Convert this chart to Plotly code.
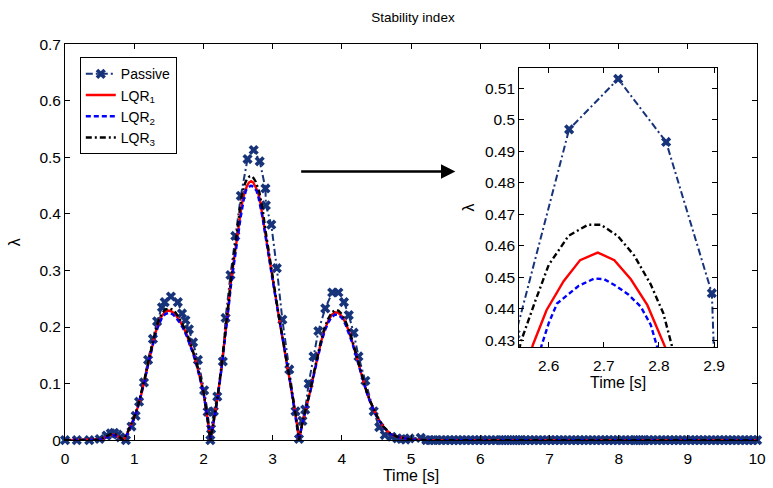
import plotly.graph_objects as go

# ---------------- data ----------------
# Passive (uncontrolled) stability index, variable-step samples
t_passive = [0.0, 0.17, 0.35, 0.5, 0.6, 0.66, 0.71, 0.76, 0.8, 0.88, 0.96, 1.02, 1.07, 1.14,
             1.2, 1.27, 1.33, 1.4, 1.44, 1.53, 1.63, 1.69, 1.74, 1.79, 1.85, 1.92, 2.01,
             2.06, 2.1, 2.11, 2.15, 2.2, 2.28, 2.32, 2.39, 2.46, 2.54, 2.637, 2.726, 2.813,
             2.896, 2.902, 2.98, 3.06, 3.14, 3.24, 3.33, 3.38, 3.43, 3.47, 3.52, 3.59, 3.66,
             3.76, 3.86, 3.95, 4.03, 4.1, 4.17, 4.24, 4.34, 4.46, 4.54, 4.62, 4.72, 4.8,
             4.86, 4.92, 4.98, 5.14,
             5.22, 5.27, 5.33, 5.38, 5.44, 5.5, 5.56, 5.62, 5.68, 5.74, 5.8, 5.86, 5.92,
             5.98, 6.04, 6.1, 6.16, 6.22, 6.28, 6.32, 6.36, 6.4, 6.44, 6.48, 6.52, 6.56,
             6.6, 6.66, 6.72, 6.78, 6.84, 6.9, 6.96, 7.02, 7.08, 7.14, 7.2, 7.26, 7.32,
             7.38, 7.44, 7.5, 7.56, 7.62, 7.68, 7.74, 7.8, 7.86, 7.92, 7.98, 8.04, 8.1,
             8.16, 8.22, 8.26, 8.3, 8.34, 8.38, 8.44, 8.5, 8.56, 8.62, 8.68, 8.74, 8.8,
             8.86, 8.92, 8.98, 9.04, 9.1, 9.16, 9.22, 9.28, 9.34, 9.4, 9.46, 9.52, 9.58,
             9.64, 9.7, 9.76, 9.82, 9.88, 9.94, 10.0]
lam_passive = [0.0, 0.0, 0.0, 0.002, 0.008, 0.012, 0.013, 0.010, 0.005, 0.0, 0.024, 0.043,
               0.068, 0.102, 0.142, 0.179, 0.21, 0.235, 0.244, 0.254, 0.244, 0.224, 0.212,
               0.196, 0.173, 0.142, 0.088, 0.05, 0.0, 0.02, 0.051, 0.077, 0.139, 0.216,
               0.292, 0.361, 0.432, 0.497, 0.513, 0.493, 0.445, 0.415, 0.381, 0.304, 0.213,
               0.125, 0.051, 0.002, 0.034, 0.054, 0.1, 0.148, 0.193, 0.233, 0.261, 0.261,
               0.244, 0.221, 0.19, 0.148, 0.105, 0.051, 0.023, 0.009, 0.006, 0.003, 0.002,
               0.001, 0.003, 0.004] + [0.0] * 85

# LQR_1 controller
t_lqr1 = [0.0, 0.4, 0.5, 0.55, 0.6, 0.65, 0.7, 0.75, 0.8, 0.84, 0.9, 0.95, 1.0, 1.05, 1.1,
          1.15, 1.2, 1.25, 1.3, 1.35, 1.4, 1.45, 1.5, 1.55, 1.6, 1.65, 1.7, 1.75, 1.8, 1.85,
          1.9, 1.95, 2.0, 2.05, 2.1, 2.15, 2.2, 2.25, 2.3, 2.35, 2.4, 2.45, 2.5, 2.54, 2.571,
          2.596, 2.627, 2.657, 2.689, 2.719, 2.749, 2.779, 2.811, 2.85, 2.9, 2.95, 3.0, 3.05,
          3.1, 3.15, 3.2, 3.25, 3.3, 3.35, 3.38, 3.43, 3.5, 3.55, 3.6, 3.65, 3.7, 3.75, 3.8,
          3.85, 3.9, 3.95, 4.0, 4.05, 4.1, 4.15, 4.2, 4.25, 4.3, 4.35, 4.4, 4.45, 4.5, 4.6,
          4.7, 4.8, 4.9, 5.0, 5.2, 10.0]
lam_lqr1 = [0.0, 0.0, 0.001, 0.003, 0.006, 0.009, 0.010, 0.008, 0.003, 0.0, 0.012, 0.025,
            0.04, 0.058, 0.08, 0.107, 0.135, 0.162, 0.187, 0.207, 0.220, 0.227, 0.229, 0.227,
            0.221, 0.212, 0.202, 0.189, 0.173, 0.155, 0.135, 0.111, 0.085, 0.045, 0.0, 0.035,
            0.072, 0.118, 0.168, 0.225, 0.283, 0.33, 0.372, 0.405, 0.4285, 0.4396, 0.4488,
            0.4555, 0.4579, 0.4555, 0.4494, 0.4412, 0.428, 0.40, 0.36, 0.322, 0.285, 0.248,
            0.21, 0.176, 0.142, 0.106, 0.068, 0.03, 0.0, 0.03, 0.063, 0.09, 0.12, 0.148,
            0.174, 0.195, 0.210, 0.221, 0.226, 0.225, 0.219, 0.208, 0.193, 0.174, 0.153, 0.13,
            0.108, 0.088, 0.071, 0.056, 0.043, 0.023, 0.011, 0.006, 0.003, 0.001, 0.0, 0.0]

# LQR_2 controller
t_lqr2 = [0.0, 0.4, 0.5, 0.55, 0.6, 0.65, 0.7, 0.75, 0.8, 0.84, 0.9, 0.95, 1.0, 1.05, 1.1,
          1.15, 1.2, 1.25, 1.3, 1.35, 1.4, 1.45, 1.5, 1.55, 1.6, 1.65, 1.7, 1.75, 1.8, 1.85,
          1.9, 1.95, 2.0, 2.05, 2.1, 2.15, 2.2, 2.25, 2.3, 2.35, 2.4, 2.45, 2.5, 2.54, 2.587,
          2.6, 2.615, 2.654, 2.683, 2.701, 2.722, 2.745, 2.767, 2.785, 2.796, 2.85, 2.9, 2.95,
          3.0, 3.05, 3.1, 3.15, 3.2, 3.25, 3.3, 3.35, 3.38, 3.43, 3.5, 3.55, 3.6, 3.65, 3.7,
          3.75, 3.8, 3.85, 3.9, 3.95, 4.0, 4.05, 4.1, 4.15, 4.2, 4.25, 4.3, 4.35, 4.4, 4.45,
          4.5, 4.6, 4.7, 4.8, 4.9, 5.0, 5.2, 10.0]
lam_lqr2 = [0.0, 0.0, 0.001, 0.003, 0.005, 0.008, 0.009, 0.007, 0.003, 0.0, 0.011, 0.024,
            0.039, 0.057, 0.079, 0.105, 0.133, 0.16, 0.184, 0.203, 0.216, 0.223, 0.225, 0.223,
            0.217, 0.209, 0.199, 0.186, 0.171, 0.153, 0.133, 0.11, 0.084, 0.044, 0.0, 0.034,
            0.07, 0.115, 0.164, 0.22, 0.276, 0.322, 0.362, 0.396, 0.4284, 0.4355, 0.4417,
            0.4473, 0.4497, 0.4494, 0.4473, 0.4445, 0.4407, 0.435, 0.4284, 0.396, 0.356,
            0.318, 0.282, 0.246, 0.208, 0.174, 0.14, 0.105, 0.067, 0.03, 0.0, 0.03, 0.062,
            0.089, 0.118, 0.146, 0.171, 0.192, 0.207, 0.217, 0.222, 0.221, 0.216, 0.205, 0.19,
            0.172, 0.151, 0.129, 0.107, 0.087, 0.07, 0.055, 0.042, 0.023, 0.011, 0.006, 0.003,
            0.001, 0.0, 0.0]

# LQR_3 controller
t_lqr3 = [0.0, 0.4, 0.5, 0.55, 0.6, 0.65, 0.7, 0.75, 0.8, 0.84, 0.9, 0.95, 1.0, 1.05, 1.1,
          1.15, 1.2, 1.25, 1.3, 1.35, 1.4, 1.45, 1.5, 1.55, 1.6, 1.65, 1.7, 1.75, 1.8, 1.85,
          1.9, 1.95, 2.0, 2.05, 2.1, 2.15, 2.2, 2.25, 2.3, 2.35, 2.4, 2.45, 2.5, 2.549, 2.576,
          2.6, 2.636, 2.671, 2.695, 2.725, 2.755, 2.785, 2.808, 2.823, 2.86, 2.9, 2.95, 3.0,
          3.05, 3.1, 3.15, 3.2, 3.25, 3.3, 3.35, 3.38, 3.43, 3.5, 3.55, 3.6, 3.65, 3.7, 3.75,
          3.8, 3.85, 3.9, 3.95, 4.0, 4.05, 4.1, 4.15, 4.2, 4.25, 4.3, 4.35, 4.4, 4.45, 4.5,
          4.6, 4.7, 4.8, 4.9, 5.0, 5.2, 10.0]
lam_lqr3 = [0.0, 0.0, 0.001, 0.004, 0.007, 0.010, 0.011, 0.009, 0.004, 0.0, 0.013, 0.026,
            0.041, 0.059, 0.082, 0.109, 0.137, 0.165, 0.19, 0.211, 0.224, 0.231, 0.233, 0.231,
            0.225, 0.216, 0.205, 0.192, 0.176, 0.157, 0.137, 0.113, 0.086, 0.046, 0.0, 0.036,
            0.074, 0.121, 0.172, 0.23, 0.287, 0.335, 0.38, 0.4294, 0.4427, 0.454, 0.4632,
            0.4667, 0.4667, 0.4632, 0.457, 0.4478, 0.4386, 0.4284, 0.404, 0.368, 0.326, 0.288,
            0.25, 0.212, 0.178, 0.144, 0.107, 0.069, 0.031, 0.0, 0.031, 0.064, 0.092, 0.122,
            0.151, 0.177, 0.199, 0.214, 0.225, 0.230, 0.229, 0.223, 0.211, 0.196, 0.177, 0.155,
            0.132, 0.109, 0.089, 0.072, 0.057, 0.044, 0.024, 0.012, 0.006, 0.003, 0.001, 0.0,
            0.0]

# ---------------- style ----------------
FONT = "Liberation Sans, Arial, Helvetica, sans-serif"
NAVY = "#17337a"
TICK_SIZE = 15.5
LABEL_SIZE = 16

series = [
    dict(name="Passive", t=t_passive, lam=lam_passive,
         line=dict(color=NAVY, width=2, dash="7px,3px,2px,3px"),
         mode="lines+markers",
         marker=dict(symbol="x", size=9, color=NAVY, line=dict(width=0))),
    dict(name="LQR<sub>1</sub>", t=t_lqr1, lam=lam_lqr1,
         line=dict(color="#ff0000", width=2.4), mode="lines", marker=None),
    dict(name="LQR<sub>2</sub>", t=t_lqr2, lam=lam_lqr2,
         line=dict(color="#0000ff", width=2.4, dash="5px,3px"), mode="lines", marker=None),
    dict(name="LQR<sub>3</sub>", t=t_lqr3, lam=lam_lqr3,
         line=dict(color="#000000", width=2.4, dash="6px,3px,2px,3px"), mode="lines",
         marker=None),
]

fig = go.Figure()

# main axes
for s in series:
    kw = dict(x=s["t"], y=s["lam"], name=s["name"], mode=s["mode"], line=s["line"],
              xaxis="x", yaxis="y", cliponaxis=False)
    if s["marker"]:
        kw["marker"] = s["marker"]
    fig.add_trace(go.Scatter(**kw))

# zoomed view around the largest peak
for s in series:
    kw = dict(x=s["t"], y=s["lam"], name=s["name"], mode=s["mode"], line=s["line"],
              xaxis="x2", yaxis="y2", showlegend=False, cliponaxis=True)
    if s["marker"]:
        kw["marker"] = s["marker"]
    fig.add_trace(go.Scatter(**kw))

W, H = 773, 488
axis_common = dict(showline=True, linecolor="black", linewidth=1, mirror="allticks",
                   ticks="inside", ticklen=5, tickcolor="black", showgrid=False,
                   zeroline=False, tickfont=dict(family=FONT, size=TICK_SIZE, color="black"))

fig.update_layout(
    width=W, height=H, autosize=False,
    margin=dict(l=0, r=0, t=0, b=0),
    paper_bgcolor="white", plot_bgcolor="white",
    font=dict(family=FONT, color="black"),
    title=dict(text="Stability index", x=413 / W, xanchor="center", y=1 - 17 / H,
               yanchor="middle", font=dict(family=FONT, size=13.5)),
    xaxis=dict(domain=[62 / W, 765 / W], range=[0, 10], dtick=1, tick0=0,
               ticklabelstandoff=4,
               title=dict(text="Time [s]", font=dict(family=FONT, size=LABEL_SIZE),
                          standoff=0),
               anchor="y", **axis_common),
    yaxis=dict(domain=[1 - 446.7 / H, 1 - 36.5 / H], range=[0, 0.7], dtick=0.1, tick0=0,
               title=dict(text="λ", font=dict(family=FONT, size=LABEL_SIZE), standoff=14),
               anchor="x", **axis_common),
    xaxis2=dict(domain=[523.3 / W, 724.3 / W], range=[2.5464, 2.9054], dtick=0.1, tick0=2.6,
                ticklabelstandoff=4,
                title=dict(text="Time [s]", font=dict(family=FONT, size=LABEL_SIZE),
                           standoff=0),
                anchor="y2", **axis_common),
    yaxis2=dict(domain=[1 - 350.3 / H, 1 - 61 / H], range=[0.4279, 0.5165], dtick=0.01,
                tick0=0.43, tickformat=".2~f",
                title=dict(text="λ", font=dict(family=FONT, size=LABEL_SIZE), standoff=6),
                anchor="x2", **axis_common),
    legend=dict(x=77 / W, y=1 - 50 / H, xanchor="left", yanchor="top",
                bgcolor="white", bordercolor="black", borderwidth=1,
                font=dict(family=FONT, size=14), tracegroupgap=0, itemwidth=30),
    showlegend=True,
)

# arrow pointing from the main peak to the zoomed view
fig.add_annotation(x=5.64, y=0.475, ax=3.39, ay=0.475, xref="x", yref="y",
                   axref="x", ayref="y", text="", showarrow=True,
                   arrowhead=2, arrowsize=1.2, arrowwidth=2.4, arrowcolor="black")

fig.write_html("out.html")
